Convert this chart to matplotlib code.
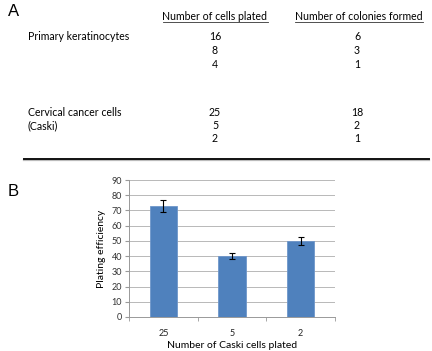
import numpy as np
import matplotlib
matplotlib.use('Agg')
import matplotlib.pyplot as plt
from matplotlib.lines import Line2D

plt.rcParams['font.family'] = ['Lato', 'DejaVu Sans']

# panel A table
col_headers = ['Number of cells plated', 'Number of colonies formed']
row_groups = ['Primary keratinocytes', 'Cervical cancer cells\n(Caski)']
cells_plated = [[16, 8, 4], [25, 5, 2]]
colonies_formed = [[6, 3, 1], [18, 2, 1]]

# panel B bars
caski_cells = ['25', '5', '2']
efficiency = [73, 40, 50]
efficiency_err = [3.7, 2.2, 2.7]

W, H = 432, 351
fig = plt.figure(figsize=(W / 100, H / 100), dpi=100)

def px(x, y):
    return x / W, 1 - y / H

fs = 7.6
fig.text(*px(8, 12), 'A', fontsize=12, family=['Liberation Sans'], va='center', ha='left')
fig.text(*px(8, 191), 'B', fontsize=12, family=['Liberation Sans'], va='center', ha='left')

# headers, underlined
hdr_x = [215, 359]
hdrs = []
for hx, h in zip(hdr_x, col_headers):
    hdrs.append(fig.text(*px(hx, 16), h, fontsize=fs, ha='center', va='center'))
fig.canvas.draw()
r = fig.canvas.get_renderer()
for t in hdrs:
    bb = t.get_window_extent(r)
    fig.add_artist(Line2D([bb.x0 / W, bb.x1 / W], [(bb.y0 - 0.5) / H] * 2,
                          color='#333333', lw=0.6))

group_y = [37, 112]
row_step = 13.5
for g, gy in enumerate(group_y):
    for k, ln in enumerate(row_groups[g].split('\n')):
        fig.text(*px(28, gy + k * row_step), ln, fontsize=fs, ha='left', va='center')
    for k in range(3):
        fig.text(*px(215, gy + k * row_step), str(cells_plated[g][k]), fontsize=fs, ha='center', va='center')
        fig.text(*px(357, gy + k * row_step), str(colonies_formed[g][k]), fontsize=fs, ha='center', va='center')

# rule under table
fig.add_artist(Line2D([24 / W, 429 / W], [1 - 160 / H] * 2, color='#bbbbbb', lw=1.6))
fig.add_artist(Line2D([24 / W, 429 / W], [1 - 158.8 / H] * 2, color='#111111', lw=1.4))

# bar chart
l, rt, b, t = 129, 335, 317, 180
ax = fig.add_axes([l / W, 1 - b / H, (rt - l) / W, (b - t) / H])
x = np.arange(len(caski_cells))
ax.bar(x, efficiency, width=0.4, color='#4f81bd', edgecolor='#6f97cb', lw=0.6, zorder=3)
ax.errorbar(x, efficiency, yerr=efficiency_err, fmt='none', ecolor='black',
            elinewidth=0.8, capsize=2, capthick=0.8, zorder=4)
ax.set_xlim(-0.5, 2.5)
ax.set_ylim(0, 90)
ax.set_yticks(np.arange(0, 91, 10))
ax.yaxis.grid(True, color='#b8b8b8', lw=0.7, zorder=0)
ax.set_xticks(x)
ax.set_xticklabels(caski_cells)
ax.set_xticks([-0.5, 0.5, 1.5, 2.5], minor=True)
ax.tick_params(axis='x', which='major', length=0, labelsize=6.5, pad=9, labelcolor='#222222')
ax.tick_params(axis='x', which='minor', length=3, color='#999999')
ax.tick_params(axis='y', length=3, color='#999999', labelsize=6.5, pad=2, labelcolor='#333333')
for s in ['top', 'right']:
    ax.spines[s].set_visible(False)
for s in ['left', 'bottom']:
    ax.spines[s].set_color('#999999')
    ax.spines[s].set_linewidth(0.7)
ax.set_ylabel('Plating efficiency', fontsize=7.5, labelpad=4)
ax.set_xlabel('Number of Caski cells plated', fontsize=7.5, labelpad=2)

fig.savefig('out.png', dpi=100)
